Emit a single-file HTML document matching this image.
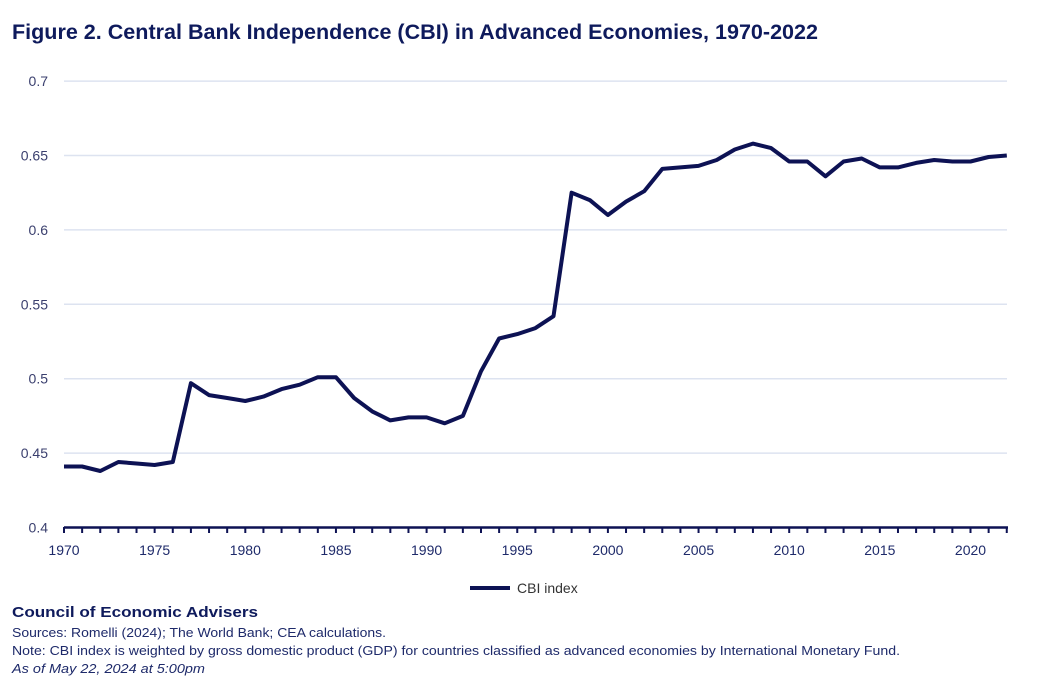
<!DOCTYPE html>
<html><head><meta charset="utf-8"><style>
html,body{margin:0;padding:0;background:#fff;width:1038px;height:686px;overflow:hidden;font-family:"Liberation Sans",sans-serif}
</style></head><body>
<svg id="s" width="1038" height="686" xmlns="http://www.w3.org/2000/svg" font-family="Liberation Sans, sans-serif">
<text x="12" y="39" font-size="21" font-weight="bold" fill="#0e1a5c" textLength="806" lengthAdjust="spacingAndGlyphs">Figure 2. Central Bank Independence (CBI) in Advanced Economies, 1970-2022</text>
<g id="grid"></g>
<g id="axis"></g>
<polyline id="line" fill="none" stroke="#0d1254" stroke-width="4" stroke-linejoin="round"/>
<line x1="470" y1="588" x2="510" y2="588" stroke="#0d1254" stroke-width="4"/>
<text x="517" y="593" font-size="14" fill="#333">CBI index</text>
<text x="12" y="617" font-size="15" font-weight="bold" fill="#0e1a5c" textLength="246" lengthAdjust="spacingAndGlyphs">Council of Economic Advisers</text>
<text x="12" y="637" font-size="12.5" fill="#1e2a6a" textLength="374" lengthAdjust="spacingAndGlyphs">Sources: Romelli (2024); The World Bank; CEA calculations.</text>
<text x="12" y="655" font-size="12.5" fill="#1e2a6a" textLength="888" lengthAdjust="spacingAndGlyphs">Note: CBI index is weighted by gross domestic product (GDP) for countries classified as advanced economies by International Monetary Fund.</text>
<text x="12" y="673" font-size="12.5" font-style="italic" fill="#1e2a6a" textLength="193" lengthAdjust="spacingAndGlyphs">As of May 22, 2024 at 5:00pm</text>
</svg>
<script>
var NS="http://www.w3.org/2000/svg";
function Y(v){return 527.5-(v-0.4)/0.05*74.4;}
function X(yr){return 64+(yr-1970)*18.13;}
var g=document.getElementById('grid'),a=document.getElementById('axis');
function el(p,t,at,txt){var e=document.createElementNS(NS,t);for(var k in at)e.setAttribute(k,at[k]);if(txt)e.textContent=txt;p.appendChild(e);return e;}
var lbl=['0.4','0.45','0.5','0.55','0.6','0.65','0.7'];
for(var i=0;i<7;i++){var v=0.4+i*0.05,y=Y(v);
 if(i>0)el(g,'line',{x1:64,x2:1007,y1:y,y2:y,stroke:'#dde3f0','stroke-width':1.5});
 el(g,'text',{x:48,y:y+5,'font-size':14,fill:'#3a3f6e','text-anchor':'end'},lbl[i]);}
el(a,'line',{x1:64,x2:1008,y1:527.5,y2:527.5,stroke:'#0d1254','stroke-width':2.5});
for(var yr=1970;yr<=2022;yr++){var x=X(yr);el(a,'line',{x1:x,x2:x,y1:527,y2:533,stroke:'#0d1254','stroke-width':2});
 if(yr%5==0)el(a,'text',{x:x,y:555,'font-size':14,fill:'#1e2a6a','text-anchor':'middle'},''+yr);}
var d=[.441,.441,.438,.444,.443,.442,.444,.497,.489,.487,.485,.488,.493,.496,.501,.501,.487,.478,.472,.474,.474,.470,.475,.505,.527,.530,.534,.542,.625,.620,.610,.619,.626,.641,.642,.643,.647,.654,.658,.655,.646,.646,.636,.646,.648,.642,.642,.645,.647,.646,.646,.649,.650];
document.getElementById('line').setAttribute('points',d.map(function(v,i){return X(1970+i).toFixed(1)+','+Y(v).toFixed(1)}).join(' '));
</script>
</body></html>
